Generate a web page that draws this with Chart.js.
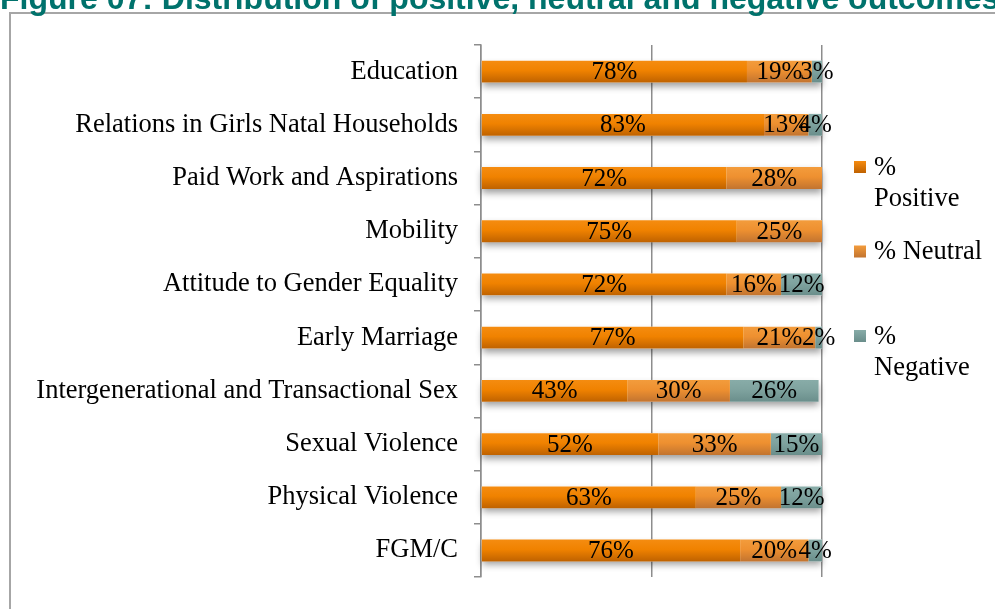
<!DOCTYPE html>
<html>
<head>
<meta charset="utf-8">
<script src="https://cdn.jsdelivr.net/npm/chart.js@4.4.1/dist/chart.umd.min.js"></script>
<style>
  html, body { margin: 0; padding: 0; background: #ffffff; width: 995px; height: 609px; overflow: hidden; }
  #frame { position: absolute; left: 9px; top: 12px; width: 1200px; height: 900px;
           border-left: 2px solid #a6a6a6; border-top: 2px solid #a6a6a6; }
  #chart { position: absolute; left: 0; top: 0; }
</style>
</head>
<body>
<div id="frame"></div>
<canvas id="chart" width="995" height="609"></canvas>
<script>
// Outcome areas, top to bottom
const categories = [
  'Education',
  'Relations in Girls Natal Households',
  'Paid Work and Aspirations',
  'Mobility',
  'Attitude to Gender Equality',
  'Early Marriage',
  'Intergenerational and Transactional Sex',
  'Sexual Violence',
  'Physical Violence',
  'FGM/C'
];

// Share of outcomes (%) per area
const positive = [78, 83, 72, 75, 72, 77, 43, 52, 63, 76];
const neutral  = [19, 13, 28, 25, 16, 21, 30, 33, 25, 20];
const negative = [3, 4, 0, 0, 12, 2, 26, 15, 12, 4];

const seriesNames = ['% Positive', '% Neutral', '% Negative'];
const legendLines = [['%', 'Positive'], ['% Neutral'], ['%', 'Negative']];
const titleText = 'Figure 07: Distribution of positive, neutral and negative outcomes';

const SERIF = '"Liberation Serif", "Times New Roman", serif';
const BAR_PCT = 0.41;

// vertical gradient stops per series (top -> bottom)
const palette = [
  ['#f58c10', '#f08200', '#bf6200'],
  ['#f39c3c', '#ee9030', '#c27430'],
  ['#88aca8', '#7fa39f', '#6a8e8b']
];

function barGradient(stops) {
  return (c) => {
    const chart = c.chart;
    const y = chart.scales && chart.scales.y;
    if (!chart.chartArea || !y || c.dataIndex === undefined) return stops[1];
    const cy = y.getPixelForValue(c.dataIndex);
    const h = Math.abs(y.getPixelForValue(1) - y.getPixelForValue(0)) * BAR_PCT;
    const g = chart.ctx.createLinearGradient(0, cy - h / 2, 0, cy + h / 2);
    g.addColorStop(0, stops[0]);
    g.addColorStop(0.45, stops[1]);
    g.addColorStop(1, stops[2]);
    return g;
  };
}

// soft drop shadow under every whole stacked bar
const barShadow = {
  id: 'barShadow',
  beforeDatasetsDraw(chart) {
    const ctx = chart.ctx;
    const metas = chart.data.datasets.map((d, i) => chart.getDatasetMeta(i));
    ctx.save();
    ctx.shadowColor = 'rgba(0,0,0,0.38)';
    ctx.shadowBlur = 7;
    ctx.shadowOffsetY = 4;
    ctx.fillStyle = '#ffffff';
    categories.forEach((_, i) => {
      let left = Infinity, right = -Infinity, top = 0, h = 0;
      metas.forEach(m => {
        const el = m.data[i];
        if (!el) return;
        left = Math.min(left, el.base, el.x);
        right = Math.max(right, el.base, el.x);
        top = el.y - el.height / 2;
        h = el.height;
      });
      ctx.fillRect(left, top, right - left, h);
    });
    ctx.restore();
  }
};

// value labels centred in each segment
const segmentLabels = {
  id: 'segmentLabels',
  afterDatasetsDraw(chart) {
    const ctx = chart.ctx;
    ctx.save();
    ctx.font = '25px ' + SERIF;
    ctx.fillStyle = '#000000';
    ctx.textAlign = 'center';
    ctx.textBaseline = 'middle';
    chart.data.datasets.forEach((ds, di) => {
      const meta = chart.getDatasetMeta(di);
      meta.data.forEach((el, i) => {
        const v = ds.data[i];
        if (!v) return;
        const p = el.getCenterPoint();
        ctx.fillText(v + '%', p.x, p.y + 1);
      });
    });
    ctx.restore();
  }
};

// title and right-hand legend
const decorations = {
  id: 'decorations',
  afterDraw(chart) {
    const ctx = chart.ctx;
    ctx.save();
    ctx.font = 'bold 32px "Liberation Sans", Arial, sans-serif';
    ctx.fillStyle = '#00726c';
    ctx.textAlign = 'left';
    ctx.textBaseline = 'alphabetic';
    ctx.fillText(titleText, 0, 9);

    ctx.font = '26.5px ' + SERIF;
    ctx.fillStyle = '#000000';
    ctx.textBaseline = 'middle';
    const firstY = 167, step = 84.5, lineH = 31;
    legendLines.forEach((lines, i) => {
      const cy = firstY + i * step;
      const g = ctx.createLinearGradient(0, cy - 6, 0, cy + 6);
      g.addColorStop(0, palette[i][0]);
      g.addColorStop(1, palette[i][2]);
      ctx.fillStyle = g;
      ctx.fillRect(854, cy - 6, 12, 12);
      ctx.fillStyle = '#000000';
      lines.forEach((t, k) => ctx.fillText(t, 874, cy + k * lineH + 1));
    });
    ctx.restore();
  }
};

const seriesData = [positive, neutral, negative];

new Chart(document.getElementById('chart'), {
  type: 'bar',
  data: {
    labels: categories,
    datasets: seriesNames.map((name, i) => ({
      label: name,
      data: seriesData[i],
      backgroundColor: barGradient(palette[i]),
      borderWidth: 0,
      categoryPercentage: 1,
      barPercentage: BAR_PCT
    }))
  },
  options: {
    indexAxis: 'y',
    responsive: false,
    animation: false,
    devicePixelRatio: 1,
    layout: { padding: { left: 0, right: 173, top: 45, bottom: 27 } },
    plugins: { legend: { display: false }, tooltip: { enabled: false }, title: { display: false } },
    scales: {
      x: {
        stacked: true,
        min: 0,
        max: 100,
        ticks: { display: false, stepSize: 50 },
        grid: { color: '#8d8d8d', lineWidth: 1.5, drawTicks: false },
        border: { display: false },
        afterFit(s) { s.height = 0; }
      },
      y: {
        stacked: true,
        grid: { offset: true, drawOnChartArea: false, drawTicks: true, tickLength: 7, color: '#8d8d8d', lineWidth: 1.5 },
        border: { display: true, color: '#8d8d8d', width: 1.5 },
        ticks: { padding: 16, color: '#000000', autoSkip: false, font: { family: SERIF, size: 26.5 } },
        afterFit(s) { s.width = 481; }
      }
    }
  },
  plugins: [barShadow, segmentLabels, decorations]
});
</script>
</body>
</html>
